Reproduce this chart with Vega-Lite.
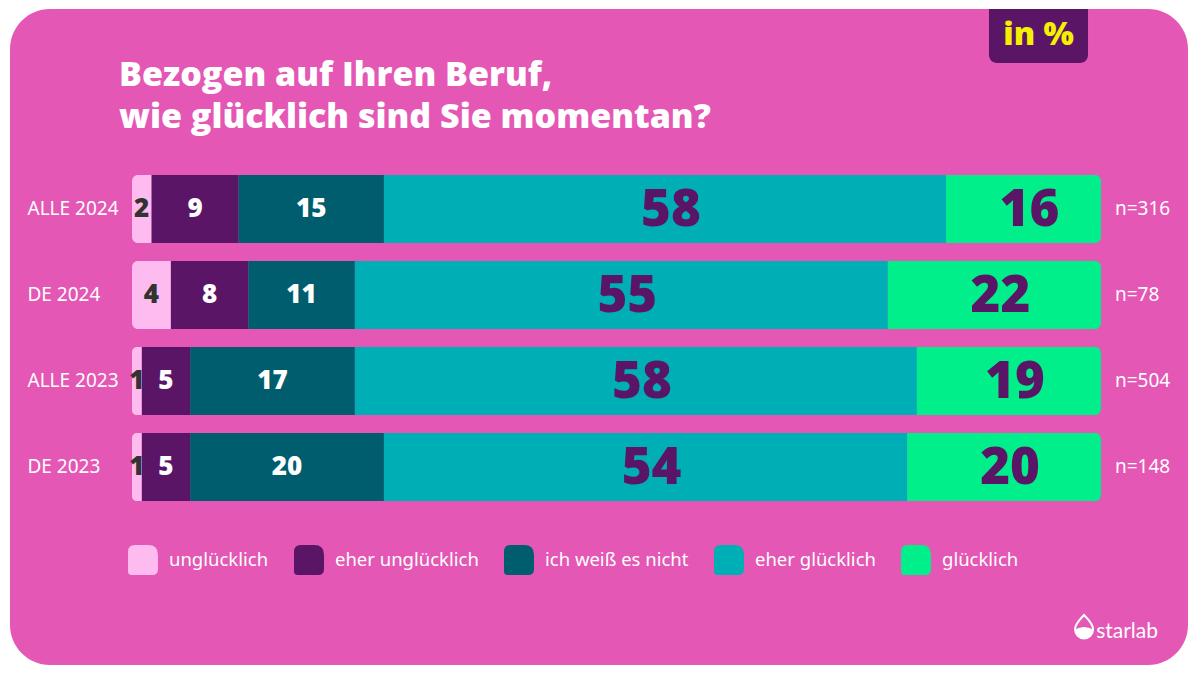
{
  "$schema": "https://vega.github.io/schema/vega-lite/v6.json",
  "width": 1178,
  "height": 656,
  "autosize": {"type": "none"},
  "padding": {"left": 10, "top": 9, "right": 12, "bottom": 10},
  "background": "white",
  "view": {"fill": "#e457b5", "stroke": null, "cornerRadius": 40},
  "title": {
    "text": ["Bezogen auf Ihren Beruf,", "wie glücklich sind Sie momentan?"],
    "anchor": "start",
    "frame": "group",
    "orient": "top",
    "color": "white",
    "font": "Open Sans",
    "fontSize": 34,
    "fontWeight": 800,
    "lineHeight": 42,
    "baseline": "top",
    "offset": 0,
    "dx": 109,
    "dy": 126
  },
  "data": {
    "values": [
      {"group": "ALLE 2024", "cat": "unglücklich", "value": 2, "n": "n=316"},
      {"group": "ALLE 2024", "cat": "eher unglücklich", "value": 9, "n": "n=316"},
      {"group": "ALLE 2024", "cat": "ich weiß es nicht", "value": 15, "n": "n=316"},
      {"group": "ALLE 2024", "cat": "eher glücklich", "value": 58, "n": "n=316"},
      {"group": "ALLE 2024", "cat": "glücklich", "value": 16, "n": "n=316"},
      {"group": "DE 2024", "cat": "unglücklich", "value": 4, "n": "n=78"},
      {"group": "DE 2024", "cat": "eher unglücklich", "value": 8, "n": "n=78"},
      {"group": "DE 2024", "cat": "ich weiß es nicht", "value": 11, "n": "n=78"},
      {"group": "DE 2024", "cat": "eher glücklich", "value": 55, "n": "n=78"},
      {"group": "DE 2024", "cat": "glücklich", "value": 22, "n": "n=78"},
      {"group": "ALLE 2023", "cat": "unglücklich", "value": 1, "n": "n=504"},
      {"group": "ALLE 2023", "cat": "eher unglücklich", "value": 5, "n": "n=504"},
      {"group": "ALLE 2023", "cat": "ich weiß es nicht", "value": 17, "n": "n=504"},
      {"group": "ALLE 2023", "cat": "eher glücklich", "value": 58, "n": "n=504"},
      {"group": "ALLE 2023", "cat": "glücklich", "value": 19, "n": "n=504"},
      {"group": "DE 2023", "cat": "unglücklich", "value": 1, "n": "n=148"},
      {"group": "DE 2023", "cat": "eher unglücklich", "value": 5, "n": "n=148"},
      {"group": "DE 2023", "cat": "ich weiß es nicht", "value": 20, "n": "n=148"},
      {"group": "DE 2023", "cat": "eher glücklich", "value": 54, "n": "n=148"},
      {"group": "DE 2023", "cat": "glücklich", "value": 20, "n": "n=148"}
    ]
  },
  "transform": [
    {"calculate": "indexof(['unglücklich','eher unglücklich','ich weiß es nicht','eher glücklich','glücklich'], datum.cat)", "as": "ord"},
    {"stack": "value", "groupby": ["group"], "sort": [{"field": "ord", "order": "ascending"}], "as": ["x0", "x1"]},
    {"calculate": "(datum.x0 + datum.x1) / 2", "as": "mid"}
  ],
  "encoding": {
    "y": {
      "field": "group",
      "type": "nominal",
      "sort": ["ALLE 2024", "DE 2024", "ALLE 2023", "DE 2023"],
      "scale": {"domain": ["ALLE 2024", "DE 2024", "ALLE 2023", "DE 2023"], "range": [157, 501], "paddingInner": 0.21, "paddingOuter": 0.105},
      "axis": {"title": null, "domain": false, "ticks": false, "tickSize": 0, "labelAlign": "left", "labelPadding": -17, "labelColor": "white", "labelFontSize": 19, "labelFont": "Noto Sans", "labelBaseline": "middle"}
    }
  },
  "layer": [
    {
      "transform": [{"filter": "datum.ord >= 1 && datum.ord <= 3"}],
      "mark": {"type": "bar"},
      "encoding": {
        "x": {"field": "x0", "type": "quantitative", "scale": {"domain": [0, 100], "range": [122, 1091], "nice": false, "zero": false}, "axis": null},
        "x2": {"field": "x1"},
        "color": {
          "field": "cat",
          "type": "nominal",
          "scale": {
            "domain": ["unglücklich", "eher unglücklich", "ich weiß es nicht", "eher glücklich", "glücklich"],
            "range": ["#fdbbef", "#5a1566", "#005d6e", "#00aeb6", "#00ef8a"]
          },
          "legend": {
            "title": null,
            "orient": "none",
            "legendX": 118,
            "legendY": 536,
            "direction": "horizontal",
            "symbolType": "M -0.55,-1 H 0.35 Q 1,-1 1,-0.35 V 0.6 Q 1,1 0.6,1 H -0.75 Q -1,1 -1,0.75 V -0.55 Q -1,-1 -0.55,-1 Z",
            "symbolSize": 900,
            "symbolStrokeWidth": 0,
            "symbolOpacity": 1,
            "labelColor": "white",
            "labelFontSize": 18.5,
            "labelFont": "Noto Sans",
            "labelOffset": 11,
            "columnPadding": 25,
            "labelLimit": 300,
            "encode": {
              "symbols": {
                "enter": {"fill": {"signal": "datum.value === 'ich weiß es nicht' ? '#4b5a55' : scale('color', datum.value)"}},
                "update": {"fill": {"signal": "datum.value === 'ich weiß es nicht' ? '#4b5a55' : scale('color', datum.value)"}}
              }
            }
          }
        }
      }
    },
    {
      "transform": [{"filter": "datum.ord == 0"}],
      "mark": {"type": "bar", "cornerRadiusTopLeft": 6, "cornerRadiusBottomLeft": 6},
      "encoding": {
        "x": {"field": "x0", "type": "quantitative"},
        "x2": {"field": "x1"},
        "color": {"field": "cat", "type": "nominal"}
      }
    },
    {
      "transform": [{"filter": "datum.ord == 4"}],
      "mark": {"type": "bar", "cornerRadiusTopRight": 6, "cornerRadiusBottomRight": 6},
      "encoding": {
        "x": {"field": "x0", "type": "quantitative"},
        "x2": {"field": "x1"},
        "color": {"field": "cat", "type": "nominal"}
      }
    },
    {
      "transform": [{"filter": "datum.ord <= 2"}],
      "mark": {"type": "text", "font": "Open Sans", "fontSize": 26, "fontWeight": 800, "baseline": "middle", "align": "center"},
      "encoding": {
        "x": {"field": "mid", "type": "quantitative"},
        "text": {"field": "value", "type": "quantitative"},
        "color": {"condition": {"test": "datum.cat == 'unglücklich'", "value": "#333333"}, "value": "white"}
      }
    },
    {
      "transform": [{"filter": "datum.ord >= 3"}],
      "mark": {"type": "text", "font": "Open Sans", "fontSize": 51, "fontWeight": 800, "baseline": "middle", "align": "center", "color": "#5a1566", "dx": 6, "dy": 2},
      "encoding": {
        "x": {"field": "mid", "type": "quantitative"},
        "text": {"field": "value", "type": "quantitative"}
      }
    },
    {
      "transform": [{"filter": "datum.ord == 4"}],
      "mark": {"type": "text", "font": "Noto Sans", "fontSize": 19, "baseline": "middle", "align": "left", "dx": 14, "color": "white"},
      "encoding": {
        "x": {"datum": 100, "type": "quantitative"},
        "text": {"field": "n", "type": "nominal"}
      }
    },
    {
      "data": {"values": [{"label": "in %"}]},
      "mark": {"type": "rect", "color": "#5a1566", "cornerRadiusBottomLeft": 8, "cornerRadiusBottomRight": 8},
      "encoding": {
        "x": {"datum": 88.44, "type": "quantitative"},
        "x2": {"datum": 98.66},
        "y": {"value": 0},
        "y2": {"value": 54}
      }
    },
    {
      "data": {"values": [{"label": "in %"}]},
      "mark": {"type": "text", "font": "Open Sans", "fontSize": 32, "fontWeight": 800, "baseline": "middle", "align": "center", "color": "#f4f000"},
      "encoding": {
        "x": {"datum": 93.55, "type": "quantitative"},
        "y": {"value": 26},
        "text": {"field": "label", "type": "nominal"}
      }
    },
    {
      "data": {"values": [{"label": "starlab"}]},
      "mark": {"type": "text", "font": "Lato", "fontSize": 21, "baseline": "alphabetic", "align": "left", "color": "white"},
      "encoding": {
        "x": {"datum": 99.5, "type": "quantitative"},
        "y": {"value": 629},
        "text": {"field": "label", "type": "nominal"}
      }
    },
    {
      "data": {"values": [{"label": "logo"}]},
      "mark": {"type": "point", "shape": "M0,-1.3 C0.35,-0.9 0.9,-0.5 0.9,0.15 A0.9,0.9 0 1 1 -0.9,0.15 C-0.9,-0.5 -0.35,-0.9 0,-1.3 Z", "size": 400, "filled": false, "stroke": "white", "strokeWidth": 2, "opacity": 1},
      "encoding": {
        "x": {"datum": 98.25, "type": "quantitative"},
        "y": {"value": 619}
      }
    },
    {
      "data": {"values": [{"label": "logo"}]},
      "mark": {"type": "point", "shape": "M-0.9,0.15 Q0,-0.35 0.9,0.15 A0.9,0.9 0 1 1 -0.9,0.15 Z", "size": 400, "filled": true, "fill": "white", "strokeWidth": 0, "opacity": 1},
      "encoding": {
        "x": {"datum": 98.25, "type": "quantitative"},
        "y": {"value": 619}
      }
    }
  ]
}
